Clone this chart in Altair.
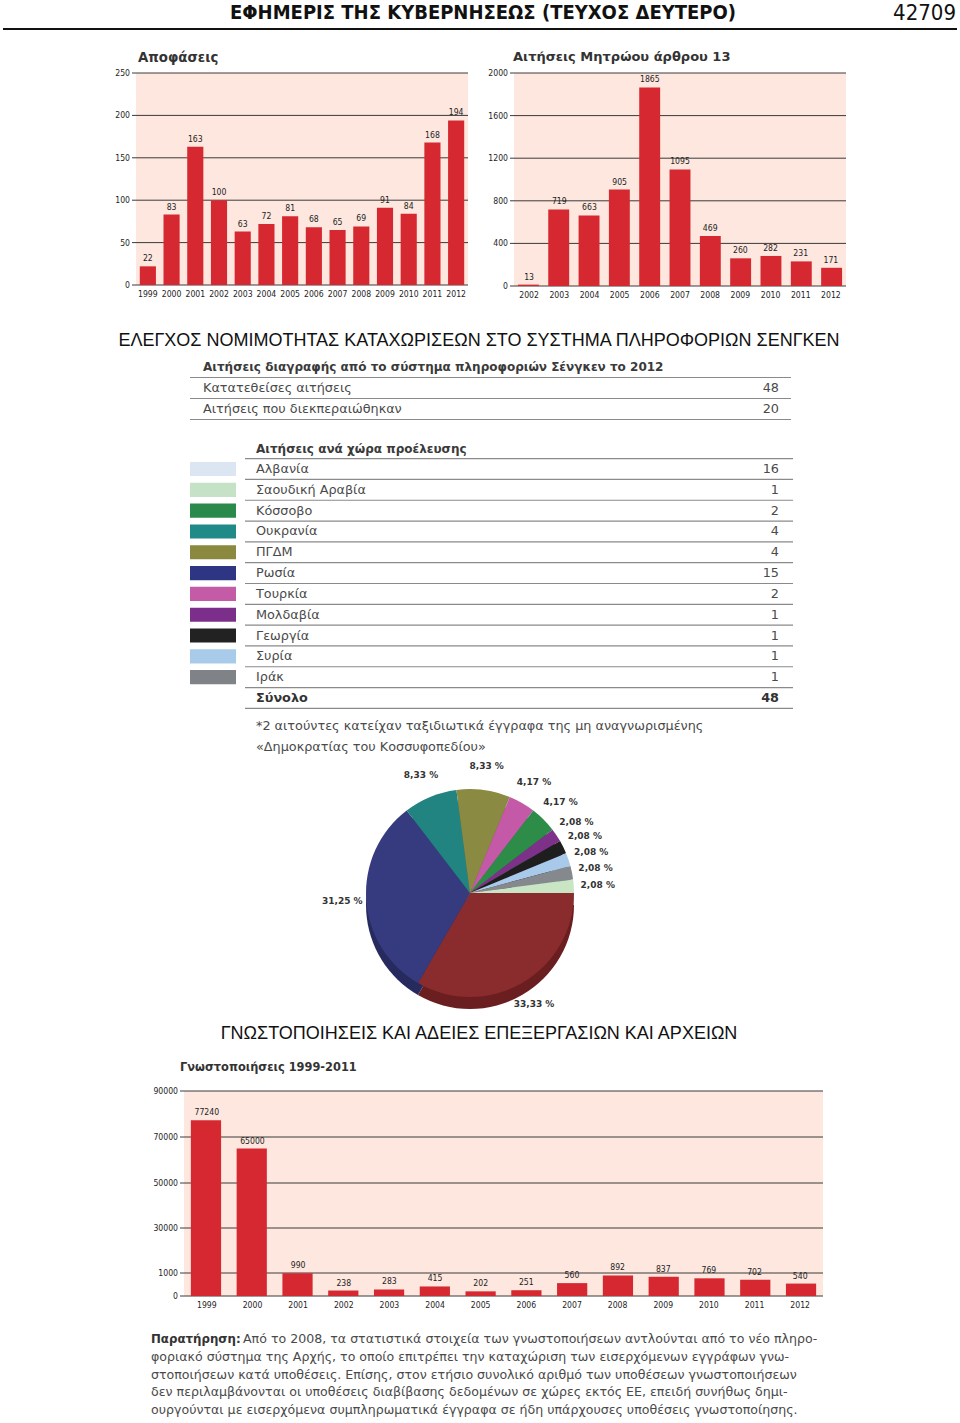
import altair as alt
import pandas as pd

# ------------------------------------------------------------------ data
decision_years = ["1999", "2000", "2001", "2002", "2003", "2004", "2005",
                  "2006", "2007", "2008", "2009", "2010", "2011", "2012"]
decision_values = [22, 83, 163, 100, 63, 72, 81, 68, 65, 69, 91, 84, 168, 194]
decision_ticks = [0, 50, 100, 150, 200, 250]

registry_years = ["2002", "2003", "2004", "2005", "2006", "2007",
                  "2008", "2009", "2010", "2011", "2012"]
registry_values = [13, 719, 663, 905, 1865, 1095, 469, 260, 282, 231, 171]
registry_ticks = [0, 400, 800, 1200, 1600, 2000]

notif_years = ["1999", "2000", "2001", "2002", "2003", "2004", "2005",
               "2006", "2007", "2008", "2009", "2010", "2011", "2012"]
notif_values = [77240, 65000, 990, 238, 283, 415, 202, 251, 560, 892, 837, 769, 702, 540]
notif_ticks = [0, 1000, 30000, 50000, 70000, 90000]

deletion_labels = ["Κατατεθείσες αιτήσεις", "Αιτήσεις που διεκπεραιώθηκαν"]
deletion_values = [48, 20]

countries = ["Αλβανία", "Σαουδική Αραβία", "Κόσσοβο", "Ουκρανία", "ΠΓΔΜ", "Ρωσία",
             "Τουρκία", "Μολδαβία", "Γεωργία", "Συρία", "Ιράκ"]
country_counts = [16, 1, 2, 4, 4, 15, 2, 1, 1, 1, 1]
total_label = "Σύνολο"

# order of the slices, clockwise from 3 o'clock, as in the pie
pie_sequence = ["Αλβανία", "Ρωσία", "Ουκρανία", "ΠΓΔΜ", "Τουρκία", "Κόσσοβο",
                "Μολδαβία", "Γεωργία", "Συρία", "Ιράκ", "Σαουδική Αραβία"]

note_lead = "Παρατήρηση:"
note_lines = [
    "Από το 2008, τα στατιστικά στοιχεία των γνωστοποιήσεων αντλούνται από το νέο πληρο-",
    "φοριακό σύστημα της Αρχής, το οποίο επιτρέπει την καταχώριση των εισερχόμενων εγγράφων γνω-",
    "στοποιήσεων κατά υποθέσεις. Επίσης, στον ετήσιο συνολικό αριθμό των υποθέσεων γνωστοποιήσεων",
    "δεν περιλαμβάνονται οι υποθέσεις διαβίβασης δεδομένων σε χώρες εκτός ΕΕ, επειδή συνήθως δημι-",
    "ουργούνται με εισερχόμενα συμπληρωματικά έγγραφα σε ήδη υπάρχουσες υποθέσεις γνωστοποίησης.",
]
footnote_lines = [
    "*2 αιτούντες κατείχαν ταξιδιωτικά έγγραφα της μη αναγνωρισμένης",
    "«Δημοκρατίας του Κοσσυφοπεδίου»",
]

# ------------------------------------------------------------------ styles
RED = "#d62830"
PEACH = "#fde7de"
GRID = "#3a3a3a"
TXT = "#1e1e1e"
GRAY = "#4a4a4a"
RULE = "#8a8a8a"
COND = "Liberation Sans Narrow, DejaVu Sans Condensed, Arial Narrow, sans-serif"
GEO = "DejaVu Sans, Verdana, sans-serif"
HEAD = "Liberation Sans, Arial, sans-serif"
TFS = 12.8   # table / body text size

swatch_colors = ["#dce6f3", "#c5e2c7", "#2a8a4b", "#1f8a87", "#8a893f", "#2e3583",
                 "#c45ba6", "#7b2f8a", "#222222", "#a9cbea", "#7f8387"]
pie_top_colors = {"Αλβανία": "#8a2b2d", "Ρωσία": "#363b7f", "Ουκρανία": "#218480",
                  "ΠΓΔΜ": "#8b8a42", "Τουρκία": "#c45aa7", "Κόσσοβο": "#2c8c48",
                  "Μολδαβία": "#7e3188", "Γεωργία": "#1e1e1e", "Συρία": "#a8c9ea",
                  "Ιράκ": "#85888c", "Σαουδική Αραβία": "#c9e5c3"}
pie_side_colors = {"Αλβανία": "#6a1e20", "Ρωσία": "#262a5e", "Ουκρανία": "#17605d",
                   "ΠΓΔΜ": "#66662f", "Τουρκία": "#8f4079", "Κόσσοβο": "#1f6634",
                   "Μολδαβία": "#5b2363", "Γεωργία": "#111111", "Συρία": "#7f9ab5",
                   "Ιράκ": "#606366", "Σαουδική Αραβία": "#98b093"}

layers = []


def text_at(s, x, y, size, weight="normal", align="left", color=TXT, font=GEO):
    return alt.Chart(pd.DataFrame({"s": [s]})).mark_text(
        align=align, baseline="middle", fontSize=size, fontWeight=weight,
        color=color, font=font
    ).encode(x=alt.value(x), y=alt.value(y), text="s:N")


def bar_panel(years, values, ticks, x0, x1, ydomain, yrange, pin, pout, fs=8.6):
    df = pd.DataFrame({"year": years, "value": values})
    xs = alt.Scale(domain=years, range=[x0, x1], paddingInner=pin, paddingOuter=pout)
    ys = alt.Scale(domain=ydomain, range=yrange)
    tdf = pd.DataFrame({"t": ticks})
    out = []
    out.append(alt.Chart(pd.DataFrame({"lo": [ticks[0]], "hi": [ticks[-1]]})).mark_rect(
        color=PEACH).encode(x=alt.value(x0), x2=alt.value(x1),
                            y=alt.Y("hi:Q", scale=ys, axis=None), y2="lo:Q"))
    out.append(alt.Chart(tdf).mark_rule(color=GRID, strokeWidth=1).encode(
        x=alt.value(x0 - 4), x2=alt.value(x1), y=alt.Y("t:Q", scale=ys, axis=None)))
    out.append(alt.Chart(tdf).mark_text(align="right", baseline="middle", fontSize=fs,
                                        font=COND, color=TXT).encode(
        x=alt.value(x0 - 6), y=alt.Y("t:Q", scale=ys, axis=None),
        text=alt.Text("t:Q", format="d")))
    X = alt.X("year:N", scale=xs, axis=None, sort=None)
    Y = alt.Y("value:Q", scale=ys, axis=None)
    out.append(alt.Chart(df).mark_bar(color=RED).encode(x=X, y=Y))
    out.append(alt.Chart(df).mark_text(baseline="bottom", dy=-3, fontSize=fs, font=COND,
                                       color=TXT).encode(
        x=X, y=Y, text=alt.Text("value:Q", format="d")))
    out.append(alt.Chart(df).mark_text(baseline="middle", fontSize=fs, font=COND,
                                       color=TXT).encode(
        x=X, y=alt.value(yrange[0] + 9), text="year:N"))
    return out


# ------------------------------------------------------------------ page header
layers.append(text_at("ΕΦΗΜΕΡΙΣ ΤΗΣ ΚΥΒΕΡΝΗΣΕΩΣ (ΤΕΥΧΟΣ ΔΕΥΤΕΡΟ)", 483, 13, 20,
                      weight="bold", align="center", font=COND, color="#111"))
layers.append(text_at("42709", 956, 13, 22, align="right", font=COND, color="#111"))
layers.append(alt.Chart(pd.DataFrame({"a": [0]})).mark_rule(color="#111", strokeWidth=2).encode(
    x=alt.value(3), x2=alt.value(957), y=alt.value(29)))

# ------------------------------------------------------------------ top bar charts
layers.append(text_at("Αποφάσεις", 138, 58, 13.3, weight="bold", color="#333"))
layers += bar_panel(decision_years, decision_values, decision_ticks, 136, 468,
                    [0, 250], [285, 73], 0.32, 0.16)

layers.append(text_at("Αιτήσεις Μητρώου άρθρου 13", 513, 57, 13, weight="bold", color="#333"))
layers += bar_panel(registry_years, registry_values, registry_ticks, 514, 846,
                    [0, 2000], [286, 73], 0.31, 0.13)

# ------------------------------------------------------------------ section 1
layers.append(text_at("ΕΛΕΓΧΟΣ ΝΟΜΙΜΟΤΗΤΑΣ ΚΑΤΑΧΩΡΙΣΕΩΝ ΣΤΟ ΣΥΣΤΗΜΑ ΠΛΗΡΟΦΟΡΙΩΝ ΣΕΝΓΚΕΝ",
                      479, 341, 18, align="center", font=HEAD, color="#111"))

# table 1
t1 = pd.DataFrame({"label": deletion_labels, "value": deletion_values,
                   "i": list(range(len(deletion_labels)))})
rows1 = alt.Scale(domain=[0, 1], range=[388, 409])
layers.append(text_at("Αιτήσεις διαγραφής από το σύστημα πληροφοριών Σένγκεν το 2012",
                      203, 367, 12, weight="bold", color="#3a3a3a"))
for expr in ["datum.i + 0.5", "datum.i - 0.5"]:
    layers.append(alt.Chart(t1).transform_calculate(r=expr).mark_rule(
        color=RULE, strokeWidth=1.2).encode(x=alt.value(190), x2=alt.value(791),
                                            y=alt.Y("r:Q", scale=rows1, axis=None)))
layers.append(alt.Chart(t1).mark_text(align="left", baseline="middle", fontSize=TFS,
                                      font=GEO, color=GRAY).encode(
    x=alt.value(203), y=alt.Y("i:Q", scale=rows1, axis=None), text="label:N"))
layers.append(alt.Chart(t1).mark_text(align="right", baseline="middle", fontSize=TFS,
                                      font=GEO, color=GRAY).encode(
    x=alt.value(779), y=alt.Y("i:Q", scale=rows1, axis=None), text="value:Q"))

# table 2
t2 = pd.DataFrame({"country": countries, "count": country_counts,
                   "i": list(range(len(countries)))})
tot = pd.DataFrame({"label": [total_label], "count": [sum(country_counts)], "i": [len(countries)]})
rows2 = alt.Scale(domain=[0, 11], range=[469, 698])
layers.append(text_at("Αιτήσεις ανά χώρα προέλευσης", 256, 449, 12, weight="bold",
                      color="#3a3a3a"))
layers.append(alt.Chart(t2).transform_calculate(r="datum.i - 0.5").mark_rule(
    color=RULE, strokeWidth=1.2).encode(x=alt.value(245), x2=alt.value(793),
                                        y=alt.Y("r:Q", scale=rows2, axis=None)))
for expr in ["datum.i - 0.5", "datum.i + 0.5"]:
    layers.append(alt.Chart(tot).transform_calculate(r=expr).mark_rule(
        color=RULE, strokeWidth=1.2).encode(x=alt.value(245), x2=alt.value(793),
                                            y=alt.Y("r:Q", scale=rows2, axis=None)))
layers.append(alt.Chart(t2).transform_calculate(lo="datum.i - 0.34", hi="datum.i + 0.34").mark_rect().encode(
    x=alt.value(190), x2=alt.value(236),
    y=alt.Y("lo:Q", scale=rows2, axis=None), y2="hi:Q",
    color=alt.Color("country:N", scale=alt.Scale(domain=countries, range=swatch_colors),
                    legend=None)))
layers.append(alt.Chart(t2).mark_text(align="left", baseline="middle", fontSize=TFS,
                                      font=GEO, color=GRAY).encode(
    x=alt.value(256), y=alt.Y("i:Q", scale=rows2, axis=None), text="country:N"))
layers.append(alt.Chart(t2).mark_text(align="right", baseline="middle", fontSize=TFS,
                                      font=GEO, color=GRAY).encode(
    x=alt.value(779), y=alt.Y("i:Q", scale=rows2, axis=None), text="count:Q"))
layers.append(alt.Chart(tot).mark_text(align="left", baseline="middle", fontSize=TFS,
                                       font=GEO, fontWeight="bold", color="#333").encode(
    x=alt.value(256), y=alt.Y("i:Q", scale=rows2, axis=None), text="label:N"))
layers.append(alt.Chart(tot).mark_text(align="right", baseline="middle", fontSize=TFS,
                                       font=GEO, fontWeight="bold", color="#333").encode(
    x=alt.value(779), y=alt.Y("i:Q", scale=rows2, axis=None), text="count:Q"))

fn = pd.DataFrame({"s": footnote_lines, "i": list(range(len(footnote_lines)))})
layers.append(alt.Chart(fn).mark_text(align="left", baseline="middle", fontSize=TFS,
                                      font=GEO, color=GRAY).encode(
    x=alt.value(256), y=alt.Y("i:Q", scale=alt.Scale(domain=[0, 1], range=[726, 747]), axis=None),
    text="s:N"))

# ------------------------------------------------------------------ pie
count_of = dict(zip(countries, country_counts))
total = sum(country_counts)
pie = pd.DataFrame({
    "country": pie_sequence,
    "count": [count_of[c] for c in pie_sequence],
    "k": list(range(len(pie_sequence))),
})
pie["pct"] = [("%.2f" % (c / total * 100)).replace(".", ",") + " %" for c in pie["count"]]

CX, CY, R = 470, 893, 104
theta = alt.Theta("count:Q", stack=True,
                  scale=alt.Scale(range=[1.5707963267948966, 7.853981633974483]))
order = alt.Order("k:Q", sort="ascending")
layers.append(alt.Chart(pie).mark_arc(outerRadius=R).encode(
    theta=theta, order=order,
    color=alt.Color("country:N", scale=alt.Scale(domain=pie_sequence,
                                                 range=[pie_side_colors[c] for c in pie_sequence]),
                    legend=None),
    x=alt.value(CX), y=alt.value(CY + 12)))
layers.append(alt.Chart(pie).mark_arc(outerRadius=R).encode(
    theta=theta, order=order,
    color=alt.Color("country:N", scale=alt.Scale(domain=pie_sequence,
                                                 range=[pie_top_colors[c] for c in pie_sequence]),
                    legend=None),
    x=alt.value(CX), y=alt.value(CY)))
layers.append(alt.Chart(pie).mark_text(radius=R + 24, fontSize=9, fontWeight="bold",
                                       font=GEO, color="#333").encode(
    theta=theta, order=order, text="pct:N", x=alt.value(CX), y=alt.value(CY)))

# ------------------------------------------------------------------ section 2
layers.append(text_at("ΓΝΩΣΤΟΠΟΙΗΣΕΙΣ ΚΑΙ ΑΔΕΙΕΣ ΕΠΕΞΕΡΓΑΣΙΩΝ ΚΑΙ ΑΡΧΕΙΩΝ",
                      479, 1034, 18, align="center", font=HEAD, color="#111"))
layers.append(text_at("Γνωστοποιήσεις 1999-2011", 180, 1068, 11.4, weight="bold", color="#333"))
layers += bar_panel(notif_years, notif_values, notif_ticks, 184, 823,
                    notif_ticks, [1296, 1273, 1228, 1183, 1137, 1091], 0.34, 0.15)

# note paragraph
nd = pd.DataFrame({"s": note_lines, "i": list(range(len(note_lines)))})
note_y = alt.Scale(domain=[0, 4], range=[1339, 1410])
layers.append(text_at(note_lead, 151, 1339, 11.8, weight="bold", color="#333"))
layers.append(alt.Chart(nd).transform_filter("datum.i == 0").mark_text(
    align="left", baseline="middle", fontSize=12.6, font=GEO, color=GRAY).encode(
    x=alt.value(243), y=alt.Y("i:Q", scale=note_y, axis=None), text="s:N"))
layers.append(alt.Chart(nd).transform_filter("datum.i > 0").mark_text(
    align="left", baseline="middle", fontSize=12.6, font=GEO, color=GRAY).encode(
    x=alt.value(151), y=alt.Y("i:Q", scale=note_y, axis=None), text="s:N"))

chart = alt.layer(*layers).resolve_scale(
    x="independent", y="independent", color="independent", theta="independent"
).properties(
    width=960, height=1423, padding=0, background="white",
    autosize=alt.AutoSizeParams(type="none")
).configure_view(stroke=None)

chart.save("out.html", embed_options={"renderer": "svg", "actions": False})
